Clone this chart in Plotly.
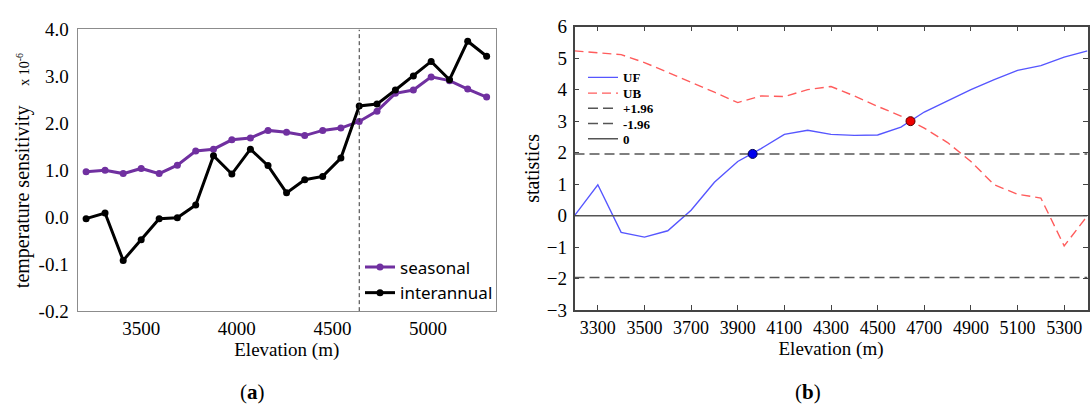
import plotly.graph_objects as go

# ---------------- Panel (a) data ----------------
elev_a = [3212, 3311, 3406, 3500, 3594, 3689, 3785, 3878, 3974, 4071, 4163, 4260,
          4355, 4449, 4544, 4640, 4733, 4829, 4923, 5016, 5112, 5207, 5306]
seasonal = [0.97, 1.00, 0.93, 1.04, 0.93, 1.11, 1.41, 1.45, 1.65, 1.69, 1.85, 1.81,
            1.74, 1.85, 1.90, 2.04, 2.26, 2.64, 2.71, 2.99, 2.91, 2.73, 2.56]
interannual = [-0.03, 0.09, -0.92, -0.48, -0.03, -0.01, 0.26, 1.31, 0.92, 1.45, 1.10, 0.52,
               0.80, 0.87, 1.26, 2.37, 2.41, 2.71, 3.01, 3.32, 2.93, 3.75, 3.43]
a_tickvals = [-2, -1, 0, 1, 2, 3, 4]
a_ticktext = ["-0.2", "-0.1", "0.0", "1.0", "2.0", "3.0", "4.0"]
a_xticks = [3500, 4000, 4500, 5000]
breakpoint_elev = 4640

# ---------------- Panel (b) data ----------------
elev_b = [3200, 3300, 3400, 3500, 3600, 3700, 3800, 3900, 4000, 4100, 4200, 4300,
          4400, 4500, 4600, 4700, 4800, 4900, 5000, 5100, 5200, 5300, 5400]
uf = [0.00, 0.98, -0.53, -0.68, -0.48, 0.17, 1.06, 1.72, 2.13, 2.58, 2.71, 2.58,
      2.55, 2.56, 2.81, 3.29, 3.64, 4.00, 4.32, 4.61, 4.76, 5.03, 5.23]
ub = [5.23, 5.16, 5.11, 4.86, 4.55, 4.25, 3.92, 3.59, 3.80, 3.78, 4.00, 4.10,
      3.80, 3.47, 3.16, 2.78, 2.32, 1.72, 0.98, 0.68, 0.56, -0.96, 0.00]
b_xticks = [3300, 3500, 3700, 3900, 4100, 4300, 4500, 4700, 4900, 5100, 5300]
b_yticks = [-3, -2, -1, 0, 1, 2, 3, 4, 5, 6]
conf_upper = 1.96
conf_lower = -1.96
uf_cross_elev = [3964]
uf_cross_val = [1.96]
ufub_cross_elev = [4641]
ufub_cross_val = [3.00]

W, H = 1090, 420
SERIF = "Liberation Serif"


def px_x(v):
    return v / W


def px_y(v):
    return 1 - v / H


fig = go.Figure()

# ---- panel (a) traces ----
fig.add_trace(go.Scatter(
    x=elev_a, y=seasonal, mode="lines+markers", name="seasonal",
    line=dict(color="#7030A0", width=3), marker=dict(size=7, color="#7030A0"),
    xaxis="x", yaxis="y", legend="legend"))
fig.add_trace(go.Scatter(
    x=elev_a, y=interannual, mode="lines+markers", name="interannual",
    line=dict(color="black", width=3), marker=dict(size=7, color="black"),
    xaxis="x", yaxis="y", legend="legend2"))
fig.add_trace(go.Scatter(
    x=[breakpoint_elev, breakpoint_elev], y=[a_tickvals[0], a_tickvals[-1]], mode="lines",
    line=dict(color="#333333", width=1, dash="4px,3px"), showlegend=False,
    hoverinfo="skip", xaxis="x", yaxis="y"))

# ---- panel (b) traces ----
fig.add_trace(go.Scatter(
    x=elev_b, y=uf, mode="lines", name="UF",
    line=dict(color="#5656ff", width=1.4), xaxis="x2", yaxis="y2", legend="legend3"))
fig.add_trace(go.Scatter(
    x=elev_b, y=ub, mode="lines", name="UB",
    line=dict(color="#ff5c5c", width=1.4, dash="9px,5px"), xaxis="x2", yaxis="y2",
    legend="legend4"))
fig.add_trace(go.Scatter(
    x=[elev_b[0], elev_b[-1]], y=[conf_upper, conf_upper], mode="lines", name="+1.96",
    line=dict(color="#555555", width=1.5, dash="10px,5px"), xaxis="x2", yaxis="y2",
    legend="legend5"))
fig.add_trace(go.Scatter(
    x=[elev_b[0], elev_b[-1]], y=[conf_lower, conf_lower], mode="lines", name="-1.96",
    line=dict(color="#555555", width=1.5, dash="10px,5px"), xaxis="x2", yaxis="y2",
    legend="legend6"))
fig.add_trace(go.Scatter(
    x=[elev_b[0], elev_b[-1]], y=[0, 0], mode="lines", name="0",
    line=dict(color="#555555", width=1.5), xaxis="x2", yaxis="y2",
    legend="legend7"))
fig.add_trace(go.Scatter(
    x=uf_cross_elev, y=uf_cross_val, mode="markers", showlegend=False,
    marker=dict(size=9, color="#0000ee", line=dict(color="#000055", width=1)),
    xaxis="x2", yaxis="y2"))
fig.add_trace(go.Scatter(
    x=ufub_cross_elev, y=ufub_cross_val, mode="markers", showlegend=False,
    marker=dict(size=9, color="#ee0000", line=dict(color="#550000", width=1)),
    xaxis="x2", yaxis="y2"))

leg_a_font = dict(family="Noto Sans", size=17, color="black")
leg_b_font = dict(family=SERIF, size=13, color="black", weight="bold")


def leg(xp, yp, font):
    return dict(x=px_x(xp), y=px_y(yp), xanchor="left", yanchor="middle",
                bgcolor="rgba(0,0,0,0)", borderwidth=0, font=font,
                itemclick=False, itemdoubleclick=False)


fig.update_layout(
    width=W, height=H, autosize=False,
    margin=dict(l=0, r=0, t=0, b=0),
    paper_bgcolor="white", plot_bgcolor="white",
    showlegend=True,
    font=dict(family=SERIF, color="black"),
    legend=leg(360, 271, leg_a_font),
    legend2=leg(360, 298, leg_a_font),
    legend3=leg(583, 71, leg_b_font),
    legend4=leg(583, 87.5, leg_b_font),
    legend5=leg(583, 103.5, leg_b_font),
    legend6=leg(583, 119.5, leg_b_font),
    legend7=leg(583, 135.5, leg_b_font),
    xaxis=dict(
        domain=[px_x(77.5), px_x(496)], range=[3167, 5355], anchor="y",
        tickmode="array", tickvals=a_xticks, ticks="", showgrid=False, zeroline=False,
        showline=True, mirror=True, linecolor="#8c8c8c", linewidth=1,
        tickfont=dict(family=SERIF, size=19, color="black"),
        title=dict(text="Elevation (m)", font=dict(family=SERIF, size=19, color="black"),
                   standoff=3)),
    yaxis=dict(
        domain=[px_y(317), px_y(20.5)], range=[-2, 4], anchor="x",
        tickmode="array", tickvals=a_tickvals, ticktext=a_ticktext, ticks="",
        showgrid=False, zeroline=False, showline=True, mirror=True,
        linecolor="#8c8c8c", linewidth=1, ticklabelstandoff=4,
        tickfont=dict(family=SERIF, size=19, color="black")),
    xaxis2=dict(
        domain=[px_x(574.5), px_x(1087.5)], range=[3200, 5400], anchor="y2",
        tickmode="array", tickvals=b_xticks, ticks="inside", ticklen=5,
        tickcolor="#444444", tickwidth=1.2, showgrid=False, zeroline=False,
        showline=True, mirror="ticks", linecolor="#444444", linewidth=1.5,
        tickfont=dict(family=SERIF, size=18, color="black"),
        title=dict(text="Elevation (m)", font=dict(family=SERIF, size=19, color="black"),
                   standoff=3)),
    yaxis2=dict(
        domain=[px_y(316), px_y(17.5)], range=[-3, 6], anchor="x2",
        tickmode="array", tickvals=b_yticks, ticks="inside", ticklen=5,
        tickcolor="#444444", tickwidth=1.2, showgrid=False, zeroline=False,
        showline=True, mirror="ticks", linecolor="#444444", linewidth=1.5,
        tickfont=dict(family=SERIF, size=19, color="black"), ticklabelstandoff=2,
        title=dict(text="statistics", font=dict(family=SERIF, size=20, color="black"),
                   standoff=2)),
    annotations=[
        dict(text="temperature sensitivity", textangle=-90, xref="paper", yref="paper",
             x=px_x(22), y=px_y(197), xanchor="center", yanchor="middle",
             showarrow=False, font=dict(family=SERIF, size=20, color="black")),
        dict(text="x 10<sup>-6</sup>", textangle=-90, xref="paper", yref="paper",
             x=px_x(23), y=px_y(63), xanchor="center", yanchor="middle",
             showarrow=False, font=dict(family=SERIF, size=14, color="black")),
        dict(text="(<b>a</b>)", xref="paper", yref="paper", x=px_x(252), y=px_y(402),
             xanchor="center", yanchor="middle", showarrow=False,
             font=dict(family=SERIF, size=21, color="black")),
        dict(text="(<b>b</b>)", xref="paper", yref="paper", x=px_x(808), y=px_y(402),
             xanchor="center", yanchor="middle", showarrow=False,
             font=dict(family=SERIF, size=21, color="black")),
    ],
)

# remove the default 8px page margin so the 1090x420 figure fills the window exactly
fig.write_html("out.html",
               config={"displayModeBar": False},
               post_script="document.body.style.margin='0';document.body.style.overflow='hidden';")
